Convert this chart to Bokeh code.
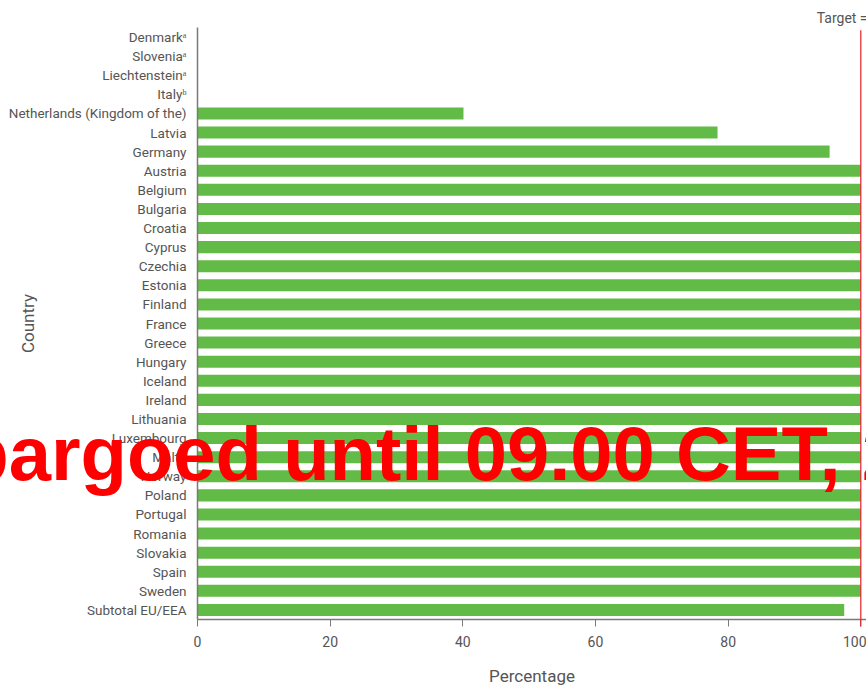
from bokeh.plotting import figure
from bokeh.models import FactorRange, FixedTicker
from bokeh.core.properties import value
from bokeh.embed import file_html
from bokeh.resources import INLINE

countries = [
    "Denmark\u1d43", "Slovenia\u1d43", "Liechtenstein\u1d43", "Italy\u1d47",
    "Netherlands (Kingdom of the)", "Latvia", "Germany", "Austria", "Belgium",
    "Bulgaria", "Croatia", "Cyprus", "Czechia", "Estonia", "Finland", "France",
    "Greece", "Hungary", "Iceland", "Ireland", "Lithuania", "Luxembourg", "Malta",
    "Norway", "Poland", "Portugal", "Romania", "Slovakia", "Spain", "Sweden",
    "Subtotal EU/EEA",
]
values = [
    0, 0, 0, 0,
    40.1, 78.4, 95.3, 100, 100,
    100, 100, 100, 100, 100, 100, 100,
    100, 100, 100, 100, 100, 100, 100,
    100, 100, 100, 100, 100, 100, 100,
    97.5,
]
x_ticks = [0, 20, 40, 60, 80, 100]
target = 100
target_text = "Target = 100%"
watermark = "Embargoed until 09.00 CET, 20 November 2024"

FONT = "Roboto"
GREY = "#555555"

factors = list(reversed(countries))
n = len(factors)

p = figure(
    width=866, height=688,
    y_range=FactorRange(factors=factors, range_padding=0),
    x_range=(0, 100.86),
    output_backend="svg", toolbar_location=None,
    min_border_left=197, min_border_right=0, min_border_top=27,
    min_border_bottom=10,
)
p.outline_line_color = None
p.xgrid.visible = False
p.ygrid.visible = False

p.hbar(y=countries, right=values, left=0, height=0.63,
       color="#62bb46", line_color=None)

# target line (runs slightly below the axis like a tick)
p.segment(x0=[target], x1=[target], y0=[n - 0.15], y1=[-0.37],
          line_color="#e8202a", line_width=1.2, level="overlay")

# axes
p.xaxis.ticker = FixedTicker(ticks=x_ticks)
p.xaxis.minor_tick_line_color = None
p.xaxis.major_tick_out = 7
p.xaxis.major_tick_in = 0
p.xaxis.axis_line_color = "#7a7a7a"
p.xaxis.major_tick_line_color = "#7a7a7a"
p.xaxis.axis_line_width = 1.5
p.xaxis.major_label_text_font = FONT
p.xaxis.major_label_text_font_size = "14px"
p.xaxis.major_label_text_color = GREY
p.xaxis.major_label_standoff = 9
p.xaxis.axis_label = "Percentage"
p.xaxis.axis_label_text_font = FONT
p.xaxis.axis_label_text_font_size = "17px"
p.xaxis.axis_label_text_font_style = "normal"
p.xaxis.axis_label_text_color = GREY
p.xaxis.axis_label_standoff = 16

p.yaxis.axis_line_color = "#7a7a7a"
p.yaxis.axis_line_width = 1.5
p.yaxis.major_tick_line_color = None
p.yaxis.minor_tick_line_color = None
p.yaxis.major_tick_out = 0
p.yaxis.major_tick_in = 0
p.yaxis.major_label_text_font = FONT
p.yaxis.major_label_text_font_size = "13.5px"
p.yaxis.major_label_text_color = GREY
p.yaxis.major_label_standoff = 11
p.yaxis.axis_label = "Country"
p.yaxis.axis_label_text_font = FONT
p.yaxis.axis_label_text_font_size = "17px"
p.yaxis.axis_label_text_font_style = "normal"
p.yaxis.axis_label_text_color = GREY
p.yaxis.axis_label_standoff = -32

# target caption above the frame
p.text(x=[target], y=[n + 0.5], text=[target_text],
       text_align="center", text_baseline="middle",
       text_font=value(FONT), text_font_size="14px", text_color=GREY,
       level="overlay")

# embargo watermark across the chart
p.text(x=[-53.3], y=[8.67], text=[watermark],
       text_align="left", text_baseline="alphabetic",
       text_font=value("Liberation Sans"), text_font_style="bold",
       text_font_size="76px", text_color="#ff0000",
       level="overlay")

open("out.html", "w").write(file_html(p, INLINE))
